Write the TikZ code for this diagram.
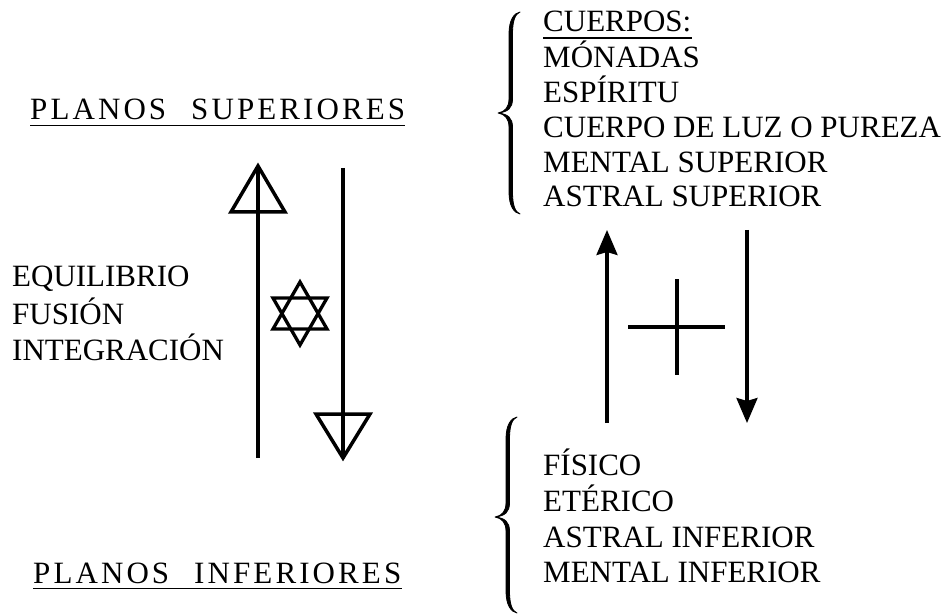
\documentclass[tikz,border=0pt]{standalone}
\usepackage{fontspec}
\setmainfont{Liberation Serif}
\newfontfamily\spacedfont[LetterSpace=10]{Liberation Serif}
\usetikzlibrary{arrows.meta}
\tikzset{
  txt/.style={anchor=base west, inner sep=0pt, font=\fontsize{31}{35}\selectfont},
  head/.style={anchor=base west, inner sep=0pt, font=\fontsize{31}{35}\selectfont\spacedfont},
  thick line/.style={line width=3.5pt, line join=miter},
  uline/.style={line width=1.8pt},
  solidarrow/.style={line width=3.2pt, -{Stealth[length=25pt,width=21pt,inset=3pt]}},
  bracefill/.style={fill=black, draw=black, line width=0.8pt, line join=round}
}
\newcommand{\mybrace}[2]{%
  \path[bracefill] (0,0) .. controls (-6,1) and (-11,8) .. (-11,22)
    -- (-11,#2-14) .. controls (-11,#2-6) and (-15,#2-1) .. (-22,#2)
    .. controls (-15,#2+1) and (-11,#2+6) .. (-11,#2+14)
    -- (-11,#1-22) .. controls (-11,#1-8) and (-6,#1-1) .. (0,#1)
    .. controls (-5,#1-2) and (-7.5,#1-9) .. (-7.5,#1-22)
    -- (-7.5,#2+14) .. controls (-7.5,#2+5) and (-12,#2+1) .. (-22,#2)
    .. controls (-12,#2-1) and (-7.5,#2-5) .. (-7.5,#2-14)
    -- (-7.5,22) .. controls (-7.5,9) and (-5,2) .. (0,0) -- cycle;}
\begin{document}
\begin{tikzpicture}[x=1pt,y=-1pt]
\useasboundingbox (0,0) rectangle (946,615);

% headings
\node[head] (ps) at (30,120) {PLANOS\hspace{25pt}SUPERIORES};
\draw[uline] ([yshift=-5.5pt]ps.base west) -- ([yshift=-5.5pt]ps.base east);
\node[head] (pi) at (33,583) {PLANOS\hspace{25pt}INFERIORES};
\draw[uline] ([yshift=-5.5pt]pi.base west) -- ([yshift=-5.5pt]pi.base east);

% left words
\node[txt] (eq) at (12,287) {EQUILIBRIO};
\node[txt] (fu) at (12,324) {FUSIÓN};
\node[txt] (in) at (12,360) {INTEGRACIÓN};

% ascending line with triangle
\coordinate (a1) at (258,458);
\coordinate (a2) at (258,166);
\draw[thick line] (a1) -- (a2);
\draw[thick line] (a2) -- (231,212) -- (285,212) -- cycle;

% descending line with triangle
\coordinate (d1) at (343,168);
\coordinate (d2) at (343,458);
\draw[thick line] (d1) -- (d2);
\draw[thick line] (d2) -- (316,414) -- (370,414) -- cycle;

% star
\draw[line width=3.3pt, line join=miter] (300,282) -- (273,329) -- (327,329) -- cycle;
\draw[line width=3.3pt, line join=miter] (300,345) -- (273,298) -- (327,298) -- cycle;

% right block upper
\node[txt] (cu) at (543,32) {CUERPOS:};
\draw[uline] ([yshift=-6pt]cu.base west) -- ([yshift=-6pt]cu.base east);
\node[txt] (mo) at (543,68) {MÓNADAS};
\node[txt] (es) at (543,103) {ESPÍRITU};
\node[txt] (cl) at (543,138) {CUERPO DE LUZ O PUREZA};
\node[txt] (ms) at (543,173) {MENTAL SUPERIOR};
\node[txt] (as) at (543,207) {ASTRAL SUPERIOR};

% right block lower
\node[txt] (fi) at (543,475) {FÍSICO};
\node[txt] (et) at (543,511) {ETÉRICO};
\node[txt] (ai) at (543,547) {ASTRAL INFERIOR};
\node[txt] (mi) at (543,582) {MENTAL INFERIOR};

% braces
\begin{scope}[shift={(520,12)}]
\mybrace{202}{101}
\end{scope}
\begin{scope}[shift={(517,417)}]
\mybrace{196}{100}
\end{scope}

% right arrows
\coordinate (u1) at (607,423);
\coordinate (u2) at (607,230);
\draw[solidarrow] (u1) -- (u2);
\coordinate (w1) at (747,230);
\coordinate (w2) at (747,423);
\draw[solidarrow] (w1) -- (w2);

% cross
\coordinate (c1) at (628,327);
\coordinate (c2) at (725,327);
\coordinate (c3) at (677,279);
\coordinate (c4) at (677,375);
\draw[line width=3.3pt] (c1) -- (c2);
\draw[line width=3.3pt] (c3) -- (c4);
\end{tikzpicture}
\end{document}
